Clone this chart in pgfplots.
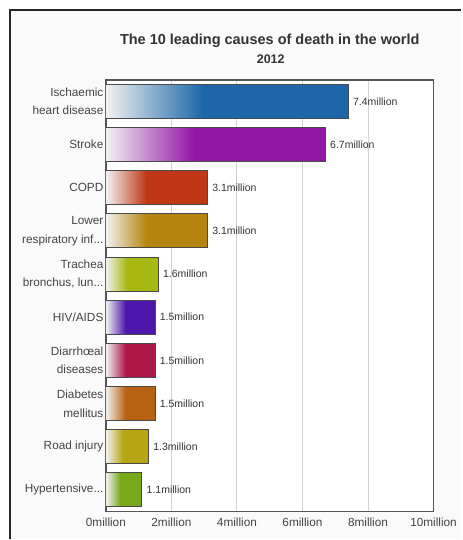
\documentclass[border=0pt]{standalone}
\usepackage{fontspec}
\setmainfont{Liberation Sans}
\usepackage{pgfplots}
\pgfplotsset{compat=1.18}
\definecolor{txt}{HTML}{333333}
\definecolor{tick}{HTML}{444444}
\definecolor{frame}{HTML}{555555}
\definecolor{gridc}{HTML}{D2D2D2}
\definecolor{bord}{HTML}{4A4A4A}
\newcommand\el{.{}.{}.}
\newcommand\mkbar[2]{%
  \definecolor{#1}{HTML}{#2}%
  \colorlet{#1L}{#1!10!gray!10!white}%
  \pgfdeclarehorizontalshading{sh#1}{100bp}{color(0bp)=(#1L); color(25bp)=(#1L); color(45bp)=(#1); color(100bp)=(#1)}}
\mkbar{cA}{1D67A9}
\mkbar{cB}{9316A6}
\mkbar{cC}{BF3714}
\mkbar{cD}{B5850F}
\mkbar{cE}{A7B812}
\mkbar{cF}{4D17AC}
\mkbar{cG}{AD1848}
\mkbar{cH}{B76212}
\mkbar{cI}{B8A514}
\mkbar{cJ}{79A81B}
\begin{document}
\begin{tikzpicture}[x=1bp,y=1bp]
\fill[white] (0,0) rectangle (462,540);
\fill[gray!4!white] (10,0) rectangle (462,530);
\draw[black!85, line width=1.2bp] (10,0) -- (10,530) -- (462,530);
\node[font=\fontsize{14.5bp}{17bp}\selectfont\bfseries, text=txt] at (270,499) {The 10 leading causes of death in the world};
\node[font=\fontsize{12.5bp}{15bp}\selectfont\bfseries, text=txt] at (271,481) {2012};
\begin{axis}[
  at={(106bp,460bp)}, anchor=north west,
  scale only axis, width=328bp, height=432bp,
  xbar, bar shift=0pt, bar width=0.79,
  xmin=0, xmax=10, ymin=-0.5, ymax=9.5,
  xtick={0,2,4,6,8,10},
  xticklabels={0million,2million,4million,6million,8million,10million},
  ytick={0,1,2,3,4,5,6,7,8,9},
  yticklabels={Hypertensive\el,Road injury,Diabetes\\mellitus,Diarrhœal\\diseases,HIV/AIDS,{Trachea\\bronchus, lun\el},Lower\\respiratory inf\el,COPD,Stroke,Ischaemic\\heart disease},
  major tick length=0pt,
  xmajorgrids, ymajorgrids=false,
  major grid style={gridc, line width=1bp},
  axis line style={frame, line width=1.5bp},
  axis background/.style={fill=white},
  ticklabel style={font=\fontsize{11.8bp}{18.5bp}\selectfont, text=tick},
  yticklabel style={align=right, xshift=1bp},
  xticklabel style={yshift=-3bp},
  point meta=x,
  nodes near coords={\pgfmathprintnumber[fixed,precision=1,fixed zerofill,assume math mode=true]{\pgfplotspointmeta}million},
  every node near coord/.append style={font=\fontsize{10.5bp}{12bp}\selectfont, text=txt, anchor=west, xshift=1bp},
  every axis plot/.append style={draw=bord, line width=1bp},
]
\addplot[shading=shcA] coordinates {(7.4,9)};
\addplot[shading=shcB] coordinates {(6.7,8)};
\addplot[shading=shcC] coordinates {(3.1,7)};
\addplot[shading=shcD] coordinates {(3.1,6)};
\addplot[shading=shcE] coordinates {(1.6,5)};
\addplot[shading=shcF] coordinates {(1.5,4)};
\addplot[shading=shcG] coordinates {(1.5,3)};
\addplot[shading=shcH] coordinates {(1.5,2)};
\addplot[shading=shcI] coordinates {(1.3,1)};
\addplot[shading=shcJ] coordinates {(1.1,0)};
\end{axis}
\end{tikzpicture}
\end{document}
